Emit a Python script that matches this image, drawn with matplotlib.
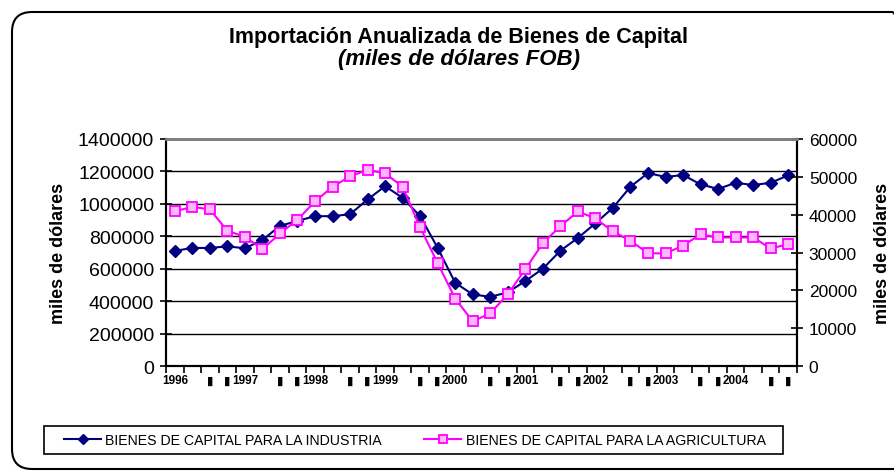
import matplotlib
matplotlib.use('Agg')
import matplotlib.pyplot as plt
from matplotlib.patches import FancyBboxPatch, Rectangle
from matplotlib.transforms import IdentityTransform
from matplotlib.ticker import FixedLocator

plt.rcParams['font.family'] = ['Liberation Sans', 'DejaVu Sans']

# quarterly data 1996 I - 2004 IV (miles de dolares FOB)
years = [1996, 1997, 1998, 1999, 2000, 2001, 2002, 2003, 2004]
industria = [710000, 728000, 728000, 738000, 726000, 777000, 864000, 895000, 924000,
             924000, 936000, 1027000, 1109000, 1037000, 924000, 728000, 513000, 441000,
             427000, 454000, 524000, 600000, 711000, 790000, 880000, 976000, 1106000,
             1190000, 1166000, 1178000, 1120000, 1092000, 1130000, 1116000, 1130000, 1176000]
agricultura = [40850, 42090, 41380, 35740, 34150, 30880, 35030, 38650, 43500,
               47380, 50120, 51880, 50910, 47380, 36620, 27180, 17820, 11800,
               13940, 18970, 25590, 32470, 36970, 40850, 39000, 35560, 33090,
               29820, 29740, 31850, 34770, 33970, 33970, 33970, 31060, 32210]
quarter_marks = ['', '', '\u25ae', '\u25ae']
left_ticks = [0, 200000, 400000, 600000, 800000, 1000000, 1200000, 1400000]
right_ticks = [0, 10000, 20000, 30000, 40000, 50000, 60000]

labels = []
for y in years:
    labels += [str(y)] + quarter_marks[1:]
x = list(range(len(industria)))

fig = plt.figure(figsize=(8.95, 4.77), dpi=100)
ax = fig.add_axes([0.1855, 0.2306, 0.7050, 0.4759])
ax2 = ax.twinx()

ax.plot(x, industria, color='#000080', marker='D', markersize=6, lw=1.5,
        label='BIENES DE CAPITAL PARA LA INDUSTRIA', zorder=4)
ax2.plot(x, agricultura, color='#ff00ff', marker='s', markersize=6.5, lw=1.5,
         markerfacecolor='#ffb8ff', markeredgecolor='#ff00ff', markeredgewidth=1.3,
         label='BIENES DE CAPITAL PARA LA AGRICULTURA', zorder=4)

ax.set_xlim(-0.5, len(x) - 0.5)
ax.set_ylim(0, 1400000)
ax2.set_ylim(0, 60000)
ax.set_yticks(left_ticks)
ax.set_yticklabels([str(v) for v in left_ticks])
ax2.set_yticks(right_ticks)
ax2.set_yticklabels([str(v) for v in right_ticks])
ax.yaxis.grid(True, color='black', lw=1)
ax.set_axisbelow(True)

ax.set_xticks(x)
ax.set_xticklabels(labels, fontsize=8.5, fontweight='bold')
ax.tick_params(axis='x', length=0, pad=6)
ax.xaxis.set_minor_locator(FixedLocator([i - 0.5 for i in range(len(x) + 1)]))
ax.tick_params(axis='x', which='minor', length=5, width=1.2, direction='out')

ax.tick_params(axis='y', direction='inout', length=9, width=1.2, labelsize=14, pad=4)
ax2.tick_params(axis='y', direction='inout', length=9, width=1.2, labelsize=12.5, pad=4)

for a in (ax, ax2):
    a.spines['top'].set_color('#808080')
    a.spines['top'].set_linewidth(2)
    for s in ('left', 'right', 'bottom'):
        a.spines[s].set_linewidth(1.5)
        a.spines[s].set_color('black')

ax.set_ylabel('miles de dólares', fontsize=13, fontweight='bold', labelpad=8)
ax2.set_ylabel('miles de dólares', fontsize=13, fontweight='bold', labelpad=12)

fig.text(459 / 895, 1 - 38 / 477, 'Importación Anualizada de Bienes de Capital',
         ha='center', va='center', fontsize=15.5, fontweight='bold')
fig.text(459 / 895, 1 - 59 / 477, '(miles de dólares FOB)', ha='center', va='center',
         fontsize=16, fontweight='bold', style='italic')

h1, l1 = ax.get_legend_handles_labels()
h2, l2 = ax2.get_legend_handles_labels()
leg = fig.legend(h1 + h2, l1 + l2, loc='center left', ncol=2, fontsize=10.2,
                 bbox_to_anchor=(60 / 895, 1 - 441 / 477), borderaxespad=0,
                 frameon=False, handlelength=2.6, columnspacing=3.0, borderpad=0.3,
                 handletextpad=0.3, markerscale=0.8)

# legend frame drawn separately (pixel coordinates)
fig.add_artist(Rectangle((44, 477 - 455), 739, 28, transform=IdentityTransform(),
                         fill=False, edgecolor='black', lw=1.2))

border = FancyBboxPatch((12, 7), 900, 457, boxstyle='round,pad=0,rounding_size=20',
                        transform=IdentityTransform(), fill=False, edgecolor='black', lw=1.5)
fig.add_artist(border)

plt.savefig('out.png', dpi=100)
